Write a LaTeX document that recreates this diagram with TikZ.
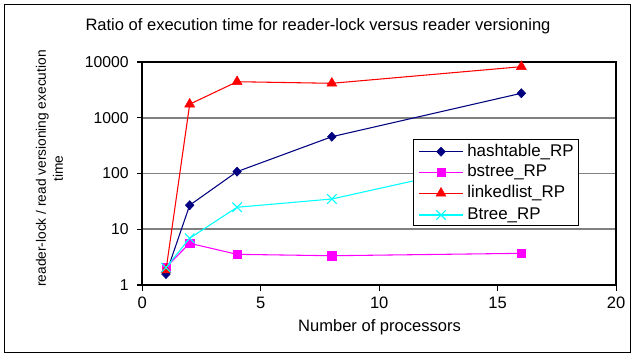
\documentclass[tikz,border=0pt]{standalone}
\usepackage{fontspec}
\setmainfont{Liberation Sans}
\usetikzlibrary{shapes.geometric,shapes.misc}
\definecolor{navyc}{RGB}{0,0,128}
\definecolor{magc}{RGB}{255,0,255}
\definecolor{redc}{RGB}{255,0,0}
\definecolor{cyanc}{RGB}{0,255,255}
\definecolor{gridc}{RGB}{128,128,128}
\tikzset{
  lbl/.style={font=\fontsize{12.4pt}{14pt}\selectfont, inner sep=0pt},
  ticklbl/.style={font=\fontsize{11.8pt}{14pt}\selectfont, inner sep=0pt},
  leglbl/.style={font=\fontsize{12.7pt}{14pt}\selectfont, inner sep=0pt},
  gridline/.style={gridc, line width=1.3pt},
  frameline/.style={black, line width=1.3pt},
  tickline/.style={black, line width=0.9pt},
  hashline/.style={navyc, line width=0.8pt},
  bsline/.style={magc, line width=0.8pt},
  llline/.style={redc, line width=0.8pt},
  btline/.style={cyanc, line width=0.8pt},
  hashmark/.style={diamond, fill=navyc, draw=navyc, inner sep=0pt, minimum width=6.6pt, minimum height=7pt},
  bsmark/.style={rectangle, fill=magc, draw=magc, inner sep=0pt, minimum size=6.2pt},
  llmark/.style={regular polygon, regular polygon sides=3, fill=redc, draw=redc, inner sep=0pt, minimum size=8.6pt},
  btmark/.style={cross out, draw=cyanc, line width=0.8pt, inner sep=0pt, minimum size=6.3pt},
}
\begin{document}
\begin{tikzpicture}[x=0.75pt,y=-0.75pt,
  declare function={X(\x)=142.3+23.69*\x; Y(\v)=285-55.75*log10(\v);}]
\useasboundingbox (0,0) rectangle (634,354);
\fill[white] (0,0) rectangle (634,354);
\draw[black, line width=0.75pt] (4.5,4) rectangle (630.5,352.5);

% title
\node[lbl, anchor=base] (title) at (318,30) {Ratio of execution time for reader-lock versus reader versioning};

% grid
\foreach \v in {10,100,1000} {
  \draw[gridline] ({X(0)},{Y(\v)}) -- ({X(20)},{Y(\v)});
}
% frame
\draw[frameline] ({X(0)},{Y(1)}) rectangle ({X(20)},{Y(10000)});
% y ticks and labels
\foreach \v in {1,10,100,1000,10000} {
  \draw[tickline] (137,{Y(\v)}) -- ({X(0)},{Y(\v)});
  \node[ticklbl, anchor=east] (yl\v) at (129,{Y(\v)}) {\v};
}
% x ticks and labels
\foreach \x in {0,5,10,15,20} {
  \draw[tickline] ({X(\x)},{Y(1)}) -- ({X(\x)},291);
  \node[lbl] (xl\x) at ({X(\x)},303) {\x};
}
\node[lbl, anchor=base] (xlabel) at (379.5,331.5) {Number of processors};
\node[rotate=90, align=center, inner sep=0pt, font=\fontsize{10.3pt}{12.75pt}\selectfont] (ylabel) at (49.5,168.5)
  {reader-lock / read versioning execution\\time};

% data coordinates
\coordinate (h1) at ({X(1)},{Y(1.57)});
\coordinate (h2) at ({X(2)},{Y(27)});
\coordinate (h4) at ({X(4)},{Y(108)});
\coordinate (h8) at ({X(8)},{Y(457)});
\coordinate (h16) at ({X(16)},{Y(2750)});
\coordinate (b1) at ({X(1)},{Y(2.1)});
\coordinate (b2) at ({X(2)},{Y(5.6)});
\coordinate (b4) at ({X(4)},{Y(3.55)});
\coordinate (b8) at ({X(8)},{Y(3.35)});
\coordinate (b16) at ({X(16)},{Y(3.7)});
\coordinate (l1) at ({X(1)},{Y(1.85)});
\coordinate (l2) at ({X(2)},{Y(1750)});
\coordinate (l4) at ({X(4)},{Y(4430)});
\coordinate (l8) at ({X(8)},{Y(4150)});
\coordinate (l16) at ({X(16)},{Y(8240)});
\coordinate (t1) at ({X(1)},{Y(2.05)});
\coordinate (t2) at ({X(2)},{Y(6.9)});
\coordinate (t4) at ({X(4)},{Y(24.8)});
\coordinate (t8) at ({X(8)},{Y(34.9)});
\coordinate (t16) at ({X(16)},{Y(198)});

% series
\draw[hashline] (h1) -- (h2) -- (h4) -- (h8) -- (h16);
\foreach \p in {h1,h2,h4,h8,h16} \node[hashmark] (m\p) at (\p) {};
\draw[bsline] (b1) -- (b2) -- (b4) -- (b8) -- (b16);
\foreach \p in {b1,b2,b4,b8,b16} \node[bsmark] (m\p) at (\p) {};
\draw[llline] (l1) -- (l2) -- (l4) -- (l8) -- (l16);
\foreach \p in {l1,l2,l4,l8,l16} \node[llmark] (m\p) at (\p) {};
\draw[btline] (t1) -- (t2) -- (t4) -- (t8) -- (t16);
\foreach \p in {t1,t2,t4,t8,t16} \node[btmark] (m\p) at (\p) {};

% legend
\node[draw=black, fill=white, line width=0.75pt, minimum width=123.75pt, minimum height=64.5pt, inner sep=0pt] (legend) at (495.5,182) {};
\foreach \i/\y/\ls/\ms/\t in {1/151.7/hashline/hashmark/hashtable\_RP, 2/172.3/bsline/bsmark/bstree\_RP, 3/193.3/llline/llmark/linkedlist\_RP, 4/215/btline/btmark/Btree\_RP} {
  \coordinate (la\i) at (419,\y);
  \coordinate (lb\i) at (463,\y);
  \draw[\ls] (la\i) -- (lb\i);
  \node[\ms] (lm\i) at (441,\y) {};
  \node[leglbl, anchor=west] (lt\i) at (467,\y) {\t};
}
\end{tikzpicture}
\end{document}
